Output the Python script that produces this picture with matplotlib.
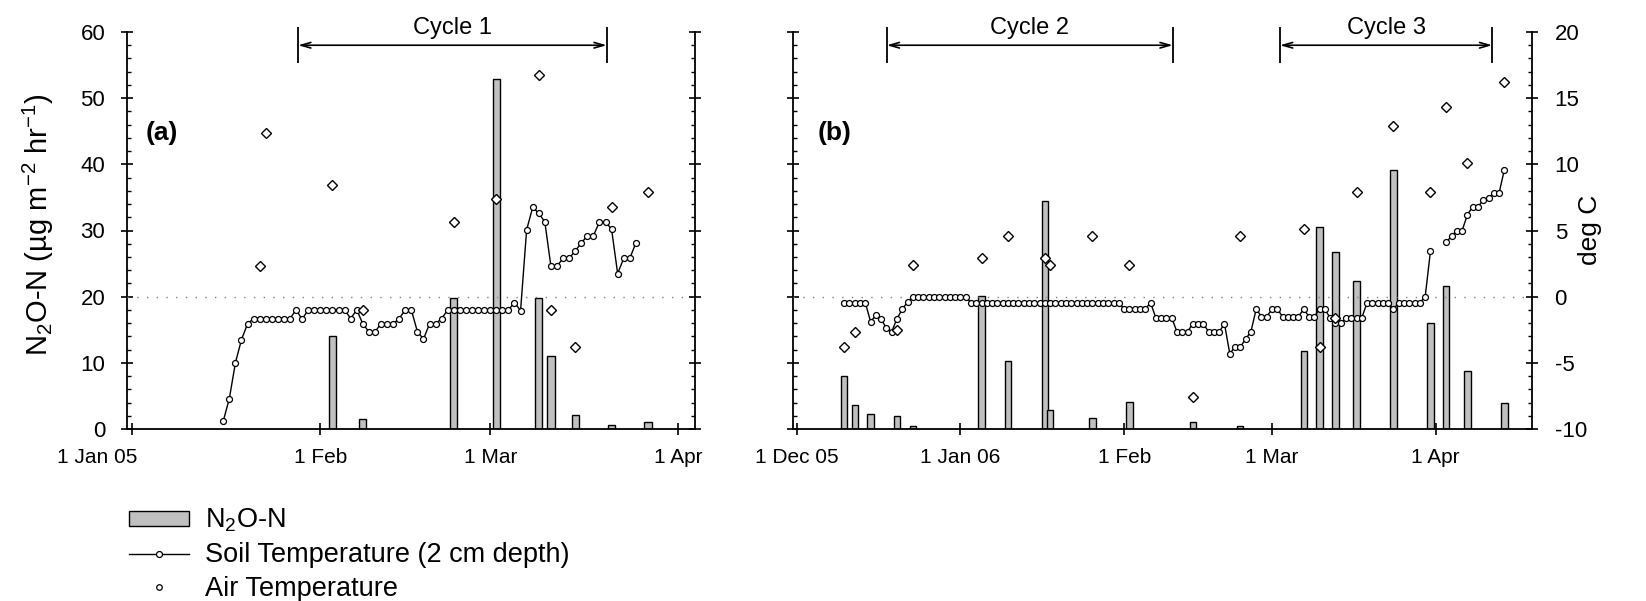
import numpy as np
import matplotlib
matplotlib.use('Agg')
import matplotlib.pyplot as plt
import matplotlib.dates as mdates
from matplotlib.lines import Line2D
from matplotlib.ticker import MultipleLocator
from matplotlib.transforms import ScaledTranslation

plt.rcParams['font.family'] = ['Liberation Sans', 'DejaVu Sans']
plt.rcParams['mathtext.fontset'] = 'custom'
plt.rcParams['mathtext.rm'] = 'Liberation Sans'
plt.rcParams['mathtext.it'] = 'Liberation Sans:italic'
plt.rcParams['axes.unicode_minus'] = False

# ---- panel (a): winter 2005 ----
flux_a_dates = ['2005-02-03', '2005-02-08', '2005-02-23', '2005-03-02', '2005-03-09',
                '2005-03-11', '2005-03-15', '2005-03-21', '2005-03-27']
flux_a = [14.0, 1.5, 19.8, 52.9, 19.8, 11.0, 2.1, 0.6, 1.1]

air_a_dates = ['2005-01-22', '2005-01-23', '2005-02-03', '2005-02-08', '2005-02-23',
               '2005-03-02', '2005-03-09', '2005-03-11', '2005-03-15', '2005-03-21',
               '2005-03-27']
air_a = [2.35, 12.35, 8.45, -1.0, 5.65, 7.35, 16.75, -1.0, -3.8, 6.75, 7.9]

# daily soil temperature (2 cm), from 16 Jan 2005
soil_a_start = '2005-01-16'
soil_a = [-9.4, -7.7, -5.0, -3.25, -2.05,
          -1.65, -1.65, -1.65, -1.65, -1.65, -1.65, -1.65,
          -1.0, -1.7, -1.0, -1.0, -1.0, -1.0, -1.0, -1.0, -1.0,
          -1.65, -1.0, -2.05, -2.65, -2.65, -2.05, -2.05, -2.05, -1.65, -1.0,
          -1.0, -2.65, -3.2, -2.05, -2.05, -1.65, -1.0,
          -1.0, -1.0, -1.0, -1.0, -1.0, -1.0, -1.0, -1.0, -1.0, -1.0,
          -0.45, -1.05, 5.05, 6.75, 6.3, 5.65, 2.3, 2.3, 2.9, 2.9,
          3.45, 4.05, 4.6, 4.6, 5.65, 5.65, 5.1, 1.75, 2.9, 2.9, 4.05]

ticks_a = ['2005-01-01', '2005-02-01', '2005-03-01', '2005-04-01']
ticklabels_a = ['1 Jan 05', '1 Feb', '1 Mar', '1 Apr']
xlim_a = ['2004-12-31 02:00', '2005-04-03 18:00']

cycle_names_a = ['Cycle 1']
cycle_start_a = ['2005-01-28 08:00']
cycle_end_a = ['2005-03-20 05:00']

# ---- panel (b): winter 2005-06 ----
flux_b_dates = ['2005-12-10', '2005-12-12', '2005-12-15', '2005-12-20', '2005-12-23',
                '2006-01-05', '2006-01-10', '2006-01-17', '2006-01-18', '2006-01-26',
                '2006-02-02', '2006-02-14', '2006-02-23', '2006-03-07', '2006-03-10',
                '2006-03-13', '2006-03-17', '2006-03-24', '2006-03-31', '2006-04-03',
                '2006-04-07', '2006-04-14']
flux_b = [8.0, 3.6, 2.3, 1.9, 0.5, 20.1, 10.3, 34.5, 2.9, 1.6, 4.1, 1.1, 0.5,
          11.8, 30.5, 26.7, 22.3, 39.2, 16.0, 21.6, 8.8, 3.9]

air_b_dates = ['2005-12-10', '2005-12-12', '2005-12-20', '2005-12-23', '2006-01-05',
               '2006-01-10', '2006-01-17', '2006-01-18', '2006-01-26', '2006-02-02',
               '2006-02-14', '2006-02-23', '2006-03-07', '2006-03-10', '2006-03-13',
               '2006-03-17', '2006-03-24', '2006-03-31', '2006-04-03', '2006-04-07',
               '2006-04-14']
air_b = [-3.8, -2.65, -2.5, 2.4, 2.9, 4.6, 2.9, 2.4, 4.6, 2.4, -7.6, 4.6, 5.1,
         -3.8, -1.6, 7.9, 12.9, 7.9, 14.3, 10.1, 16.25]

# daily soil temperature (2 cm), from 10 Dec 2005 (no record 1-2 Apr)
soil_b_start = '2005-12-10'
soil_b = [-0.45, -0.45, -0.45, -0.45, -0.45,
          -1.9, -1.4, -1.7, -2.4, -2.65, -1.65, -0.95, -0.4,
          0.0, 0.0, 0.0, 0.0, 0.0, 0.0, 0.0, 0.0, 0.0, 0.0, 0.0,
          -0.45, -0.45, -0.45, -0.45, -0.45, -0.45, -0.45, -0.45, -0.45, -0.45,
          -0.45, -0.45, -0.45, -0.45, -0.45, -0.45, -0.45, -0.45, -0.45, -0.45,
          -0.45, -0.45, -0.45, -0.45, -0.45, -0.45, -0.45, -0.45, -0.45,
          -0.95, -0.95, -0.95, -0.95, -0.95, -0.45,
          -1.6, -1.6, -1.6, -1.6, -2.65, -2.65, -2.65, -2.05, -2.05, -2.05,
          -2.65, -2.65, -2.65, -2.05,
          -4.3, -3.8, -3.8, -3.2, -2.65, -0.95, -1.5, -1.5,
          -0.95, -0.95, -1.5, -1.5, -1.5, -1.5, -0.95, -1.5, -1.5, -0.95,
          -0.95, -1.6, -2.0, -2.0, -1.6, -1.6, -1.6, -1.6,
          -0.45, -0.45, -0.45, -0.45, -0.45, -0.95, -0.45, -0.45, -0.45, -0.45,
          -0.45, 0.0, 3.45, np.nan, np.nan,
          4.1, 4.6, 5.0, 5.0, 6.2, 6.8, 6.8, 7.3, 7.45, 7.85, 7.85, 9.6]

ticks_b = ['2005-12-01', '2006-01-01', '2006-02-01', '2006-03-01', '2006-04-01']
ticklabels_b = ['1 Dec 05', '1 Jan 06', '1 Feb', '1 Mar', '1 Apr']
xlim_b = ['2005-11-30 06:00', '2006-04-19 04:00']

cycle_names_b = ['Cycle 2', 'Cycle 3']
cycle_start_b = ['2005-12-18 01:00', '2006-03-02 12:00']
cycle_end_b = ['2006-02-10 05:00', '2006-04-11 17:00']

FS = 15


def draw_panel(ax, flux_dates, flux, soil_start, soil, air_dates, air,
               ticks, ticklabels, xlim, letter, names, starts, ends, right_labels):
    ax2 = ax.twinx()

    bars = ax.bar(mdates.datestr2num(flux_dates), flux, width=1.2, color='#c0c0c0',
                  edgecolor='black', linewidth=1, zorder=2)
    x_soil = mdates.datestr2num(soil_start) + np.arange(len(soil))
    soil_line, = ax2.plot(x_soil, soil, '-o', color='black', lw=1, ms=4.3,
                          mfc='white', mec='black', mew=0.9, zorder=3)
    ax2.plot(mdates.datestr2num(air_dates), air, 'D', ls='none', ms=5.2,
             mfc='white', mec='black', mew=1, zorder=4)
    ax2.axhline(0, color='gray', ls=(0, (1, 6)), lw=1, zorder=1)

    ax.set_ylim(0, 60)
    ax2.set_ylim(-10, 20)
    ax.set_xlim(mdates.datestr2num(xlim))
    ax.set_xticks(mdates.datestr2num(ticks))
    ax.set_xticklabels(ticklabels)

    ax.yaxis.set_major_locator(MultipleLocator(10))
    ax.yaxis.set_minor_locator(MultipleLocator(2))
    ax2.yaxis.set_major_locator(MultipleLocator(5))
    ax2.yaxis.set_minor_locator(MultipleLocator(1))

    for s in ['top', 'right']:
        ax.spines[s].set_visible(False)
    for s in ['top', 'left', 'bottom']:
        ax2.spines[s].set_visible(False)
    ax.spines['left'].set_linewidth(1.3)
    ax.spines['bottom'].set_linewidth(1.3)
    ax2.spines['right'].set_linewidth(1.3)

    ax.tick_params(axis='y', which='major', direction='inout', length=9, width=1.2,
                   labelsize=FS + 1, pad=11, labelleft=not right_labels)
    ax.tick_params(axis='y', which='minor', direction='in', length=3, width=1)
    ax.tick_params(axis='x', direction='inout', length=8, width=1.2, labelsize=FS, pad=10)
    ax2.tick_params(axis='y', which='major', direction='inout', length=9, width=1.2,
                    labelsize=FS + 1, pad=12, labelright=right_labels)
    ax2.tick_params(axis='y', which='minor', direction='in', length=3, width=1)

    ax.text(0.034, 0.746, letter, transform=ax.transAxes, fontsize=19,
            fontweight='bold', va='center')

    for name, st, en in zip(names, starts, ends):
        s, e = mdates.datestr2num([st, en])
        ax.annotate('', xy=(e, 58), xytext=(s, 58), annotation_clip=False,
                    arrowprops=dict(arrowstyle='<->,head_length=0.7,head_width=0.2',
                                    lw=1.2, color='black', shrinkA=0, shrinkB=0))
        ax.vlines([s, e], 55.3, 60.7, color='black', lw=1.3, clip_on=False)
        ax.text((s + e) / 2, 59.7, name, ha='center', va='baseline', fontsize=17,
                clip_on=False)
    return bars, soil_line


fig = plt.figure(figsize=(16.46, 6.01), dpi=100)
W, H = 1646, 601
ax_a = fig.add_axes([126.7 / W, 1 - 429 / H, (695 - 126.7) / W, 397 / H])
ax_b = fig.add_axes([792.7 / W, 1 - 429 / H, (1531.7 - 792.7) / W, 397 / H])

bars, soil_line = draw_panel(ax_a, flux_a_dates, flux_a, soil_a_start, soil_a,
                             air_a_dates, air_a, ticks_a, ticklabels_a, xlim_a, '(a)',
                             cycle_names_a, cycle_start_a, cycle_end_a, False)
draw_panel(ax_b, flux_b_dates, flux_b, soil_b_start, soil_b, air_b_dates, air_b,
           ticks_b, ticklabels_b, xlim_b, '(b)', cycle_names_b, cycle_start_b,
           cycle_end_b, True)

# first date label sits left of its tick, as in the original figure
first = ax_a.get_xticklabels()[0]
first.set_horizontalalignment('right')
first.set_transform(first.get_transform() + ScaledTranslation(0.05, 0, fig.dpi_scale_trans))

fig.text(38 / W, 1 - 225 / H, 'N$_2$O-N (µg m$^{-2}$ hr$^{-1}$)', rotation=90,
         ha='center', va='center', fontsize=21)
fig.text(1590 / W, 1 - 230 / H, 'deg C', rotation=90, ha='center', va='center',
         fontsize=19)

air_handle = Line2D([], [], marker='o', ls='none', ms=4, mfc='white', mec='black', mew=0.9)
fig.legend([bars, soil_line, air_handle],
           ['N$_2$O-N', 'Soil Temperature (2 cm depth)', 'Air Temperature'],
           loc='upper left', bbox_to_anchor=(129 / W, 1 - 507 / H), frameon=False,
           fontsize=19.5, handlelength=2.2, handleheight=0.45, handletextpad=0.6,
           labelspacing=0.28, borderpad=0, borderaxespad=0)

fig.savefig('out.png', dpi=100)
